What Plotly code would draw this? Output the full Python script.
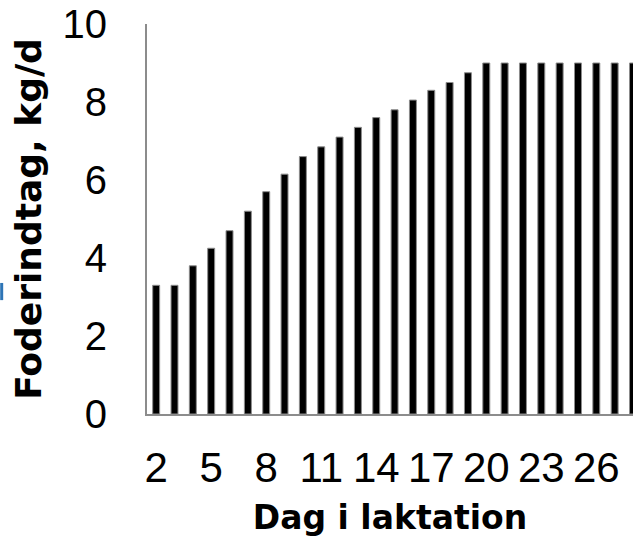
import plotly.graph_objects as go

days = list(range(2, 29))
intake = [3.3, 3.3, 3.8, 4.25, 4.7, 5.2, 5.7, 6.15, 6.6, 6.85, 7.1, 7.35, 7.6, 7.8,
          8.05, 8.3, 8.5, 8.75, 9, 9, 9, 9, 9, 9, 9, 9, 9]
y_ticks = [0, 2, 4, 6, 8, 10]

fig = go.Figure(go.Bar(
    x=days, y=intake, width=0.38,
    marker=dict(color="black", line=dict(color="#8c8c8c", width=1)),
))

fig.update_layout(
    width=633, height=547,
    margin=dict(l=147, r=0, t=24, b=133),
    paper_bgcolor="white", plot_bgcolor="white",
    showlegend=False,
    font=dict(family="Liberation Sans, Arial, sans-serif", color="black"),
    shapes=[dict(type="line", xref="paper", yref="paper",
                 x0=-0.299, x1=-0.299, y0=0.292, y1=0.336,
                 line=dict(color="#2E75B6", width=3))],
)
fig.update_xaxes(
    range=[1.5, 28.0], tickmode="linear", tick0=2, dtick=3,
    showline=True, linecolor="#8c8c8c", linewidth=2, showgrid=False, zeroline=False,
    ticks="", tickfont=dict(size=42, family="Liberation Sans, Arial, sans-serif"),
    ticklabelstandoff=16,
    title=dict(text="<b>Dag i laktation</b>", standoff=15,
               font=dict(size=33, family="DejaVu Sans, sans-serif")),
)
fig.update_yaxes(
    range=[0, 10], tickvals=y_ticks,
    showline=True, linecolor="#8c8c8c", linewidth=2, showgrid=False, zeroline=False,
    ticks="", tickfont=dict(size=40, family="Liberation Sans, Arial, sans-serif"),
    ticklabelstandoff=30,
    title=dict(text="<b>Foderindtag, kg/d</b>", standoff=10,
               font=dict(size=36, family="DejaVu Sans, sans-serif")),
)

fig.write_html("out.html")
